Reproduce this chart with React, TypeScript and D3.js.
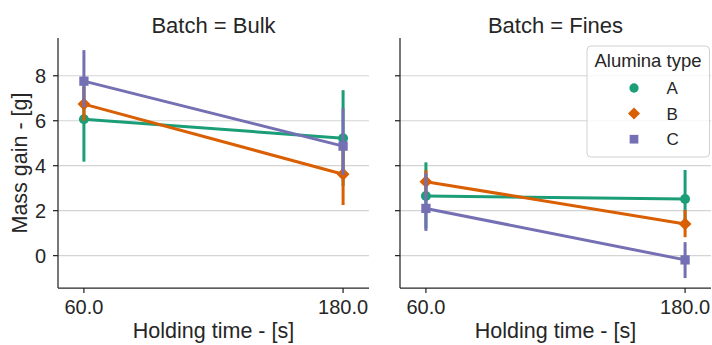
import React from "react";
import * as d3 from "d3";

const batches = ["Bulk", "Fines"];
const holdingTimes = ["60.0", "180.0"];
const aluminaTypes = ["A", "B", "C"];
const colors = ["#1b9e77", "#d95f02", "#7570b3"];
const yTicks = [0, 2, 4, 6, 8];

// Mean mass gain per [batch][type][time]
const means = [
  [[6.07, 5.22], [6.74, 3.62], [7.76, 4.87]],
  [[2.65, 2.52], [3.29, 1.41], [2.1, -0.19]],
];
// Confidence interval lower / upper per [batch][type][time]
const ciLow = [
  [[4.18, 3.1], [6.0, 2.25], [6.6, 3.59]],
  [[1.2, 1.5], [2.7, 0.82], [1.1, -1.0]],
];
const ciHigh = [
  [[7.7, 7.36], [7.5, 5.0], [9.14, 6.55]],
  [[4.15, 3.81], [3.8, 2.03], [3.67, 0.6]],
];

const W = 712;
const H = 345;
const top = 38;
const bottom = 288;
const panelLeft = [58, 400];
const panelW = 311;
const font = "'Liberation Sans', Arial, sans-serif";
const axisColor = "#262626";

function Marker({ type, x, y, color, size }: { type: number; x: number; y: number; color: string; size: number }) {
  if (type === 0) return <circle cx={x} cy={y} r={size * 0.62} fill={color} />;
  if (type === 1) {
    const s = size * 0.8;
    return <path d={`M${x},${y - s}L${x + s},${y}L${x},${y + s}L${x - s},${y}Z`} fill={color} />;
  }
  const s = size * 0.58;
  return <rect x={x - s} y={y - s} width={2 * s} height={2 * s} fill={color} />;
}

export default function App() {
  const y = d3.scaleLinear().domain([-1.44, 9.68]).range([bottom, top]);

  return (
    <svg width={W} height={H} style={{ display: "block", position: "absolute", left: 0, top: 0 }} fontFamily={font}>
      <rect width={W} height={H} fill="#fff" />
      {batches.map((batch, b) => {
        const left = panelLeft[b];
        const xs = d3.scaleLinear().domain([-0.1, 1.1]).range([left, left + panelW]);
        const px = (i: number) => xs(i);
        return (
          <g key={batch}>
            {yTicks.map((t) => (
              <line key={t} x1={left} x2={left + panelW} y1={y(t)} y2={y(t)} stroke="#d4d4d4" strokeWidth={1.2} />
            ))}
            {aluminaTypes.map((type, k) => {
              const line = d3.line<number>().x((_, i) => px(i)).y((v) => y(v));
              return (
                <g key={type}>
                  {holdingTimes.map((_, i) => (
                    <line
                      key={i}
                      x1={px(i)}
                      x2={px(i)}
                      y1={y(ciLow[b][k][i])}
                      y2={y(ciHigh[b][k][i])}
                      stroke={colors[k]}
                      strokeWidth={3}
                    />
                  ))}
                  <path d={line(means[b][k]) || ""} fill="none" stroke={colors[k]} strokeWidth={3} />
                  {holdingTimes.map((_, i) => (
                    <Marker key={i} type={k} x={px(i)} y={y(means[b][k][i])} color={colors[k]} size={8} />
                  ))}
                </g>
              );
            })}
            {/* spines */}
            <line x1={left} x2={left} y1={top} y2={bottom} stroke={axisColor} strokeWidth={1.25} />
            <line x1={left} x2={left + panelW} y1={bottom} y2={bottom} stroke={axisColor} strokeWidth={1.25} />
            {yTicks.map((t) => (
              <g key={t}>
                <line x1={left - 5} x2={left} y1={y(t)} y2={y(t)} stroke={axisColor} strokeWidth={1.25} />
                {b === 0 && (
                  <text x={left - 12} y={y(t)} dy="0.36em" textAnchor="end" fontSize={20} fill={axisColor}>
                    {t}
                  </text>
                )}
              </g>
            ))}
            {holdingTimes.map((h, i) => (
              <g key={h}>
                <line x1={px(i)} x2={px(i)} y1={bottom} y2={bottom + 5} stroke={axisColor} strokeWidth={1.25} />
                <text x={px(i)} y={314} textAnchor="middle" fontSize={20} fill={axisColor}>
                  {h}
                </text>
              </g>
            ))}
            <text x={left + panelW / 2} y={338} textAnchor="middle" fontSize={21.5} fill={axisColor}>
              Holding time - [s]
            </text>
            <text x={left + panelW / 2} y={33} textAnchor="middle" fontSize={22} fill={axisColor}>
              {`Batch = ${batch}`}
            </text>
          </g>
        );
      })}
      <text
        transform={`translate(27,${(top + bottom) / 2}) rotate(-90)`}
        textAnchor="middle"
        fontSize={21.5}
        fill={axisColor}
      >
        Mass gain - [g]
      </text>
      {/* legend */}
      <g>
        <rect x={587} y={46} width={122.5} height={111} rx={4} fill="#fff" fillOpacity={0.8} stroke="#d0d0d0" strokeWidth={1} />
        <text x={648} y={67} textAnchor="middle" fontSize={18.5} fill={axisColor}>
          Alumina type
        </text>
        {aluminaTypes.map((t, k) => (
          <g key={t}>
            <Marker type={k} x={634} y={88 + k * 25.6} color={colors[k]} size={7.5} />
            <text x={666.5} y={88 + k * 25.6} dy="0.36em" fontSize={17} fill={axisColor}>
              {t}
            </text>
          </g>
        ))}
      </g>
    </svg>
  );
}
